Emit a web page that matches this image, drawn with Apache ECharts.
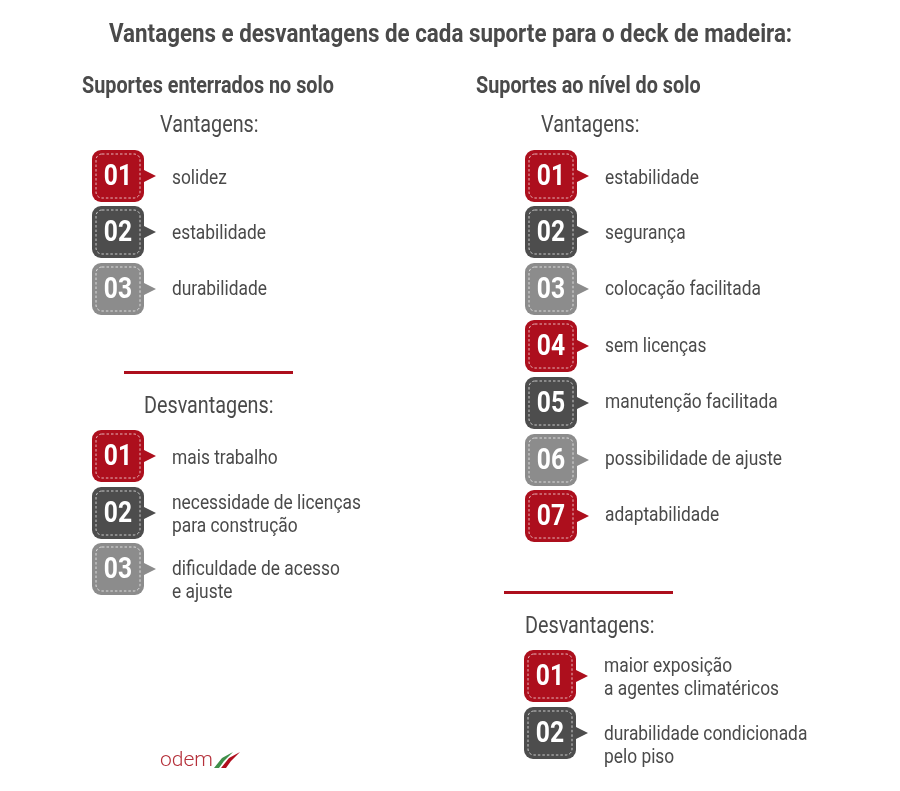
<!DOCTYPE html>
<html>
<head>
<meta charset="utf-8">
<title>Suportes para deck de madeira</title>
<script src="https://cdn.jsdelivr.net/npm/echarts@6/dist/echarts.min.js"></script>
<style>
  html, body { margin: 0; padding: 0; background: #fff; }
  #chart { width: 900px; height: 791px; }
</style>
</head>
<body>
<div id="chart"></div>
<script>
const mainTitle = 'Vantagens e desvantagens de cada suporte para o deck de madeira:';
const leftTitle = 'Suportes enterrados no solo';
const rightTitle = 'Suportes ao nível do solo';
const prosLabel = 'Vantagens:';
const consLabel = 'Desvantagens:';
const brandName = 'odem';

const leftPros = ['solidez', 'estabilidade', 'durabilidade'];
const leftCons = ['mais trabalho', 'necessidade de licenças\npara construção', 'dificuldade de acesso\ne ajuste'];
const rightPros = ['estabilidade', 'segurança', 'colocação facilitada', 'sem licenças',
  'manutenção facilitada', 'possibilidade de ajuste', 'adaptabilidade'];
const rightCons = ['maior exposição\na agentes climatéricos', 'durabilidade condicionada\npelo piso'];

const FONT = 'Roboto';
const TEXT = '#4a4a4a';
const RED = '#ad0f1d';
const badgeColors = [RED, '#4d4d4d', '#8c8c8c'];

const chart = echarts.init(document.getElementById('chart'), null, { renderer: 'canvas' });
const elements = [];

function addText(text, x, y, size, weight, scaleX, lineHeight) {
  elements.push({
    type: 'text', x, y, scaleX,
    style: {
      text, fill: TEXT, font: `${weight} ${size}px ${FONT}`,
      textAlign: 'left', textVerticalAlign: 'middle', lineHeight: lineHeight || size * 1.2
    }
  });
}

function addBadge(index, x, cy) {
  const size = 52;
  const color = badgeColors[index % 3];
  const top = cy - size / 2;
  elements.push({
    type: 'polygon',
    shape: { points: [[x + size - 2, cy - 7], [x + size + 12, cy], [x + size - 2, cy + 7]] },
    style: { fill: color }
  });
  elements.push({
    type: 'rect',
    shape: { x, y: top, width: size, height: size, r: 9 },
    style: { fill: color }
  });
  elements.push({
    type: 'rect',
    shape: { x: x + 4, y: top + 4, width: size - 8, height: size - 8, r: 6 },
    style: { fill: 'none', stroke: 'rgba(255,255,255,0.7)', lineWidth: 1, lineDash: [2.5, 2] }
  });
  elements.push({
    type: 'text', x: x + size / 2, y: cy + 2, scaleX: 0.85,
    style: {
      text: String(index + 1).padStart(2, '0'), fill: '#fff',
      font: `bold 29px ${FONT}`, textAlign: 'center', textVerticalAlign: 'middle'
    }
  });
}

function addList(items, badgeX, textX, centers, textYs) {
  items.forEach((item, i) => {
    addBadge(i, badgeX, centers[i]);
    addText(item, textX, textYs[i], 20, 'normal', 0.868, 23);
  });
}

addText(mainTitle, 109, 35, 26, 'bold', 0.86);
addText(leftTitle, 82, 87, 23, 'bold', 0.86);
addText(rightTitle, 476, 87, 23, 'bold', 0.86);
addText(prosLabel, 160, 126, 23, 'normal', 0.86);
addText(consLabel, 144, 407, 23, 'normal', 0.86);
addText(prosLabel, 541, 126, 23, 'normal', 0.86);
addText(consLabel, 525, 627, 23, 'normal', 0.86);

addList(leftPros, 92, 172, [176, 232, 289], [179, 234, 290]);
addList(leftCons, 92, 172, [456, 513, 569], [459, 515, 581]);
addList(rightPros, 525, 605, [176, 232, 289, 346, 403, 460, 516], [179, 234, 290, 347, 403, 460, 516]);
addList(rightCons, 524, 604, [676, 733], [678, 746]);

[[124, 371, 169], [504, 591, 169]].forEach(([x, y, width]) => {
  elements.push({ type: 'rect', shape: { x, y, width, height: 3 }, style: { fill: RED } });
});

// logo
elements.push({
  type: 'text', x: 160, y: 761,
  style: { text: brandName, fill: '#b5303a', font: `300 21px ${FONT}`, textAlign: 'left', textVerticalAlign: 'middle' }
});
elements.push({
  type: 'polygon',
  shape: { points: [[214, 768], [222, 758], [233, 752], [224, 761], [219, 768]] },
  style: { fill: '#3f8f4a' }
});
elements.push({
  type: 'polygon',
  shape: { points: [[221, 768], [229, 758], [240, 752], [231, 761], [226, 768]] },
  style: { fill: '#b00f1e' }
});

chart.setOption({ backgroundColor: '#fff', animation: false, graphic: { elements } });
</script>
</body>
</html>
